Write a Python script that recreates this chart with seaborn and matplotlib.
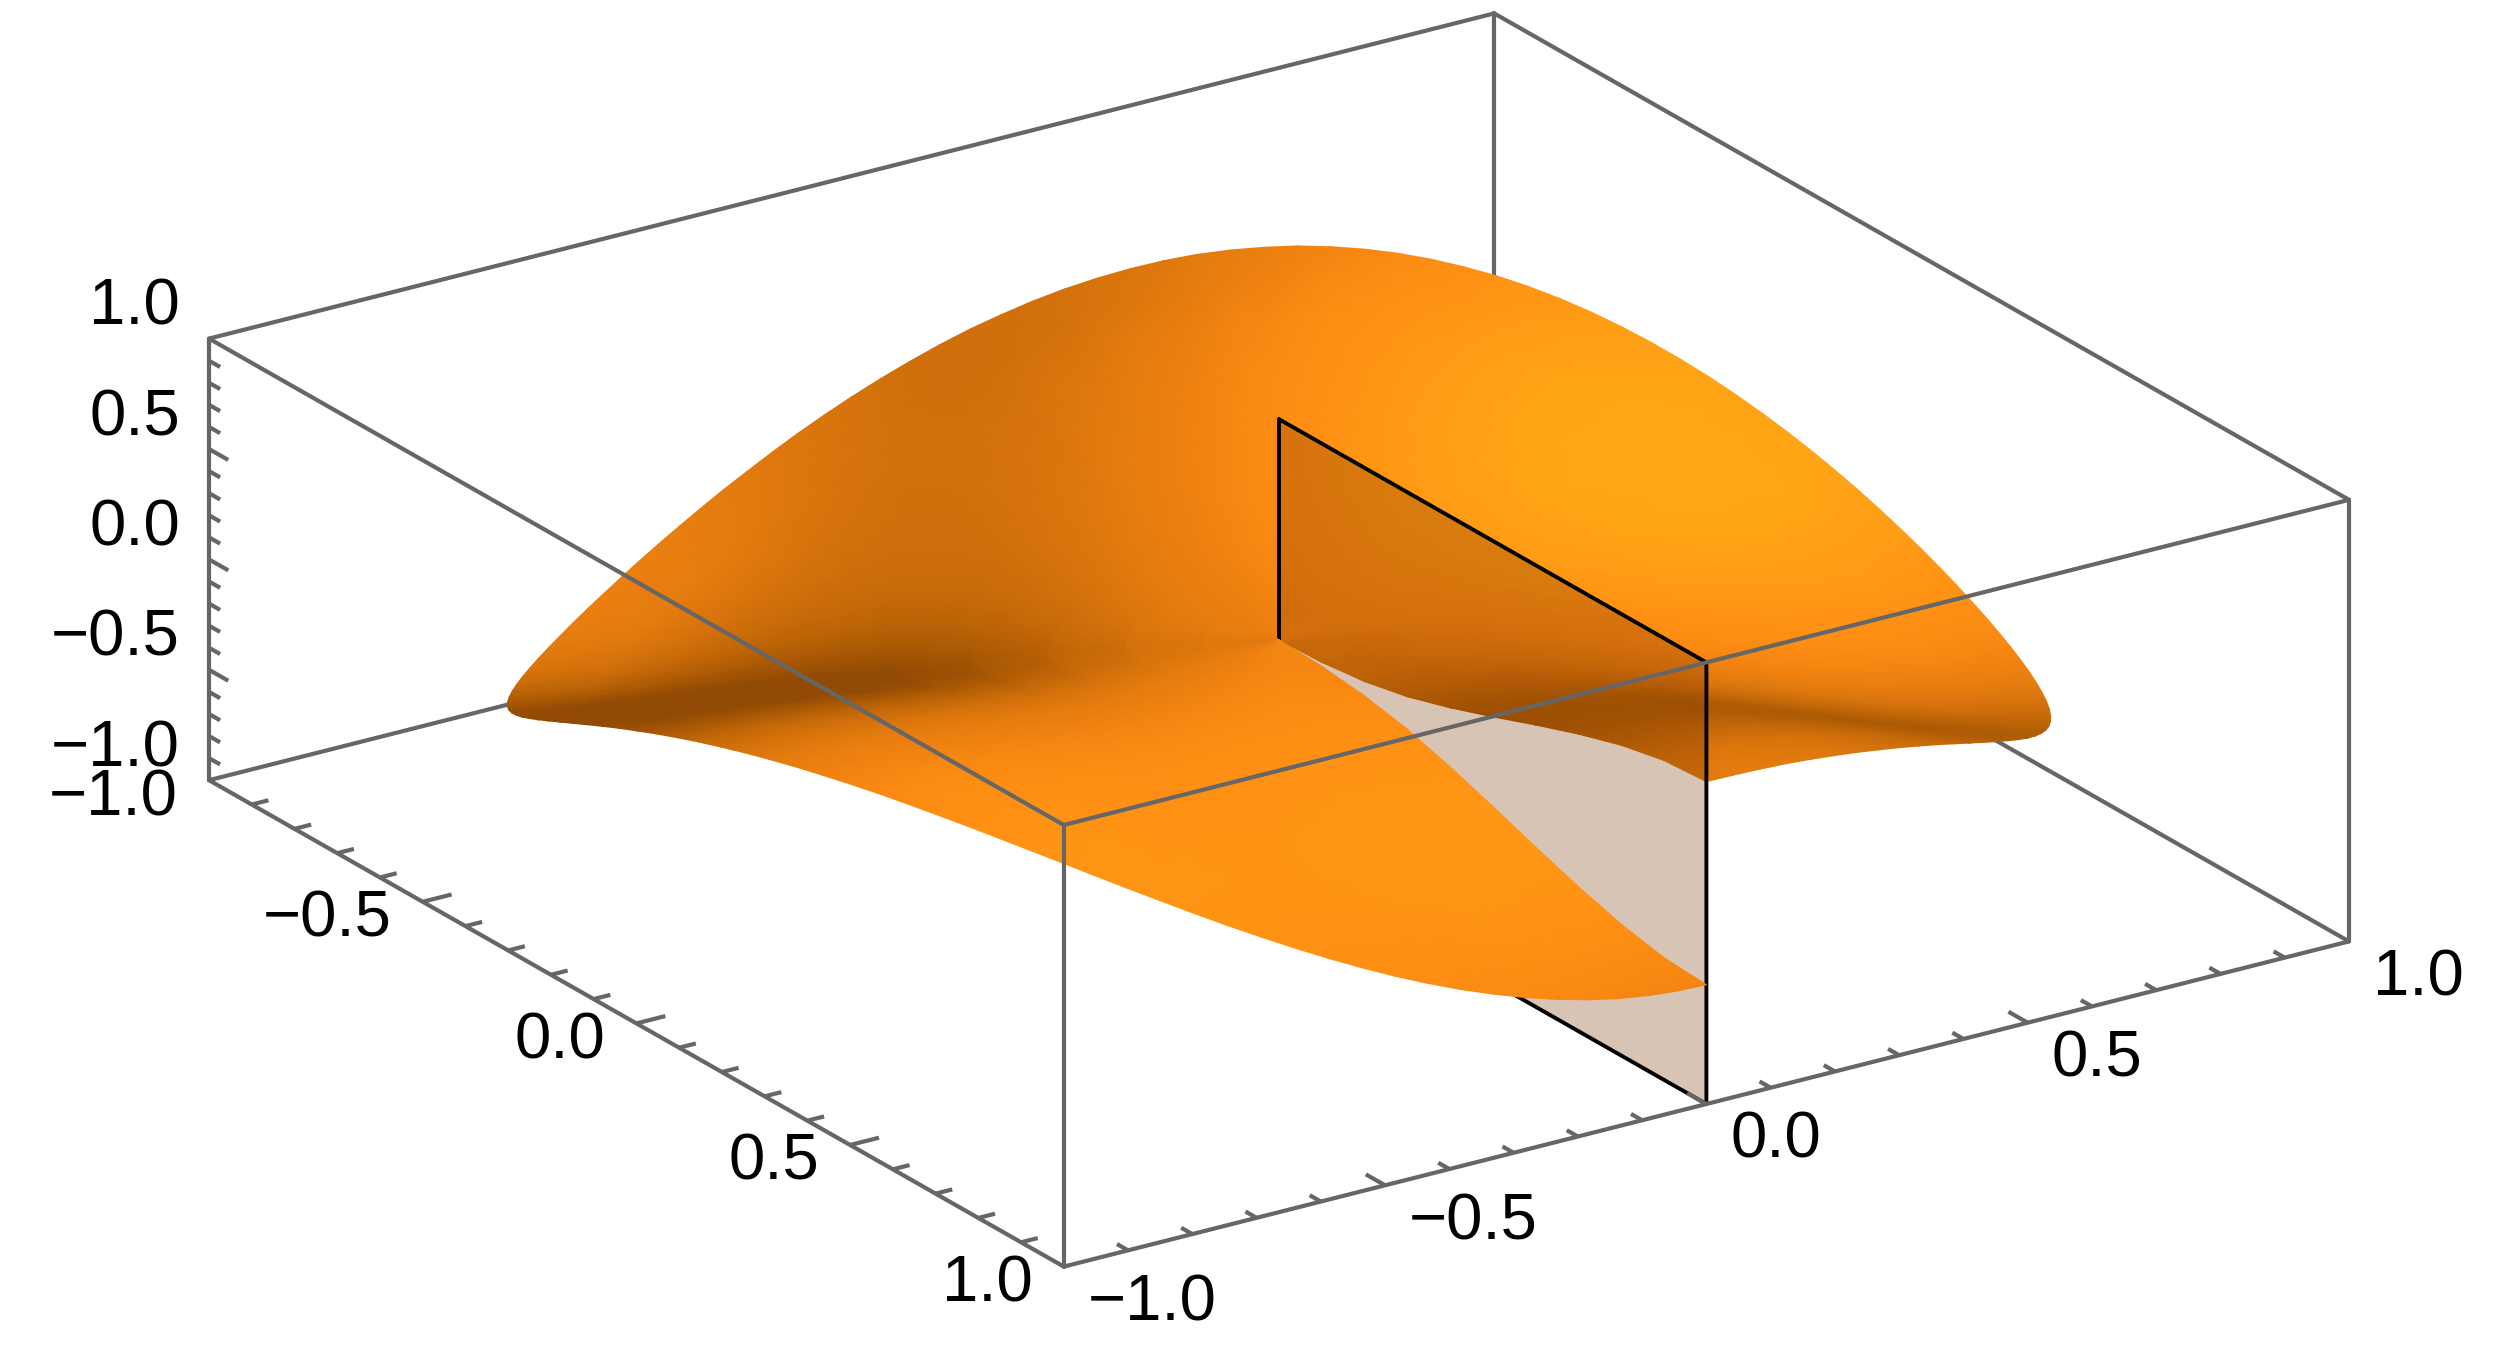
from __future__ import annotations

import matplotlib
matplotlib.use("Agg")
from matplotlib.collections import LineCollection
import matplotlib.pyplot as plt
import numpy as np
import seaborn as sns

# surface height on the rim of the unit disc, every 2.5 degrees,
# walking clockwise from (0, 1) on the x > 0 side round to (0, 1) on the x < 0 side
rim_theta = [90 - 2.5 * k for k in range(145)]
rim_z_first = [
    0.460, 0.457, 0.449, 0.436, 0.417, 0.393, 0.365, 0.332, 0.296, 0.256, 0.213, 0.167,
    0.119, 0.070, 0.020, -0.030, -0.080, -0.129, -0.176, -0.221, -0.264, -0.303, -0.339, -0.371,
    -0.398, -0.421, -0.439, -0.451, -0.458, -0.460, -0.456, -0.447, -0.432, -0.413, -0.388, -0.359,
    -0.325, -0.288, -0.247, -0.203, -0.157, -0.109, -0.060, -0.010, 0.040, 0.090, 0.138, 0.185,
    0.230, 0.272, 0.311, 0.346, 0.377, 0.403, 0.425, 0.442, 0.453, 0.459, 0.460, 0.454,
    0.444, 0.429, 0.408, 0.382, 0.352, 0.318, 0.280, 0.238, 0.195, 0.148, 0.099, 0.050, 0.0,
]
rim_z_second = [
    -0.050, -0.099, -0.148, -0.195, -0.238, -0.280, -0.318, -0.352, -0.382, -0.408, -0.429, -0.444,
    -0.454, -0.460, -0.459, -0.453, -0.442, -0.425, -0.403, -0.377, -0.346, -0.311, -0.272, -0.230,
    -0.185, -0.138, -0.090, -0.040, 0.010, 0.060, 0.109, 0.157, 0.203, 0.247, 0.288, 0.325,
    0.359, 0.388, 0.413, 0.432, 0.447, 0.456, 0.460, 0.458, 0.451, 0.439, 0.421, 0.398,
    0.371, 0.339, 0.303, 0.264, 0.221, 0.176, 0.129, 0.080, 0.030, -0.020, -0.070, -0.119,
    -0.167, -0.213, -0.256, -0.296, -0.332, -0.365, -0.393, -0.417, -0.436, -0.449, -0.457, -0.460,
]
rim_z = rim_z_first + rim_z_second
radius = [0.0, 0.1, 0.2, 0.3, 0.4, 0.5, 0.6, 0.7, 0.8, 0.9, 1.0]
radial_share = [0.0, 0.02, 0.07, 0.16, 0.29, 0.44, 0.60, 0.75, 0.88, 0.97, 1.0]

major_ticks = [-1.0, -0.5, 0.0, 0.5, 1.0]
minor_ticks = [-0.9, -0.8, -0.7, -0.6, -0.4, -0.3, -0.2, -0.1, 0.1, 0.2, 0.3, 0.4, 0.6, 0.7, 0.8, 0.9]
tick_labels = ["\u22121.0", "\u22120.5", "0.0", "0.5", "1.0"]

# cut plane at x = 0
plane_y = [0.0, 1.0, 1.0, 0.0]
plane_z = [1.0, 1.0, -1.0, -1.0]

# screen pixels per data unit, orthographic view
ORIGIN = np.array([1279.0, 640.0])
X_VEC = np.array([642.6, -162.6])
Y_VEC = np.array([427.4, 243.2])
Z_VEC = np.array([0.0, -220.8])

BOX_GREY = "#666666"
BOX_LW = 3.0
LIGHT = np.array([0.10, 0.68, 0.62])
Z_RATIO = 0.36


def project(x, y, z):
    x, y, z = np.asarray(x, float), np.asarray(y, float), np.asarray(z, float)
    return (
        ORIGIN[0] + x * X_VEC[0] + y * Y_VEC[0] + z * Z_VEC[0],
        ORIGIN[1] + x * X_VEC[1] + y * Y_VEC[1] + z * Z_VEC[1],
    )


def box_edge(ax, a, b, zorder):
    px, py = project(*zip(a, b))
    sns.lineplot(x=px, y=py, sort=False, estimator=None, color=BOX_GREY, lw=BOX_LW,
                 ax=ax, zorder=zorder, legend=False)


def surface_mesh():
    theta = np.radians(rim_theta)
    r = np.array(radius)[:, None]
    x = r * np.cos(theta)
    y = r * np.sin(theta)
    z = np.array(radial_share)[:, None] * np.array(rim_z)[None, :]

    # lighting happens in box units, the box is flat so z is squashed
    pts = np.stack([x, y, z * Z_RATIO], axis=-1)
    d_r = np.gradient(pts, axis=0)
    d_t = np.gradient(pts, axis=1)
    normals = np.cross(d_t, d_r)
    normals[0] = normals[1]
    normals /= np.linalg.norm(normals, axis=-1, keepdims=True) + 1e-12
    normals *= np.sign(normals[..., 2:3] + 1e-12)
    shade = normals @ (LIGHT / np.linalg.norm(LIGHT))
    return x, y, z, shade


def main() -> None:
    sns.set_theme(style="white")
    plt.rcParams["font.family"] = ["Liberation Sans", "DejaVu Sans"]

    fig = plt.figure(figsize=(25, 13.52), dpi=100)
    ax = fig.add_axes([0, 0, 1, 1])
    ax.set_xlim(0, 2500)
    ax.set_ylim(1352, 0)
    ax.axis("off")

    # back of the box
    box_edge(ax, (-1, -1, -1), (1, -1, -1), 1)
    box_edge(ax, (1, -1, -1), (1, -1, 1), 1)
    box_edge(ax, (1, -1, -1), (1, 1, -1), 1)
    box_edge(ax, (-1, -1, 1), (1, -1, 1), 1)
    box_edge(ax, (1, -1, 1), (1, 1, 1), 1)

    x, y, z, shade = surface_mesh()
    cmap = sns.blend_palette(
        ["#924b04", "#a85804", "#c06608", "#d4720c", "#e47c0f", "#f08210", "#fb8a13", "#ff9014", "#ff9a15", "#ffa815"],
        as_cmap=True,
    )
    px, py = project(x, y, z)
    lo, hi = 0.40, 0.915
    half = 72

    # x > 0 half sits behind the plane, x < 0 half in front of it
    ax.pcolormesh(px[:, :half + 1], py[:, :half + 1], shade[:, :half + 1], shading="gouraud",
                  cmap=cmap, vmin=lo, vmax=hi, zorder=2)

    qx, qy = project(np.zeros(4), plane_y, plane_z)
    ax.fill(qx, qy, color="#7a3400", alpha=0.29, lw=0, zorder=3)
    ax.plot(np.r_[qx, qx[0]], np.r_[qy, qy[0]], color="black", lw=2.8, zorder=4)

    ax.pcolormesh(px[:, half:], py[:, half:], shade[:, half:], shading="gouraud",
                  cmap=cmap, vmin=lo, vmax=hi, zorder=5)

    # front of the box
    box_edge(ax, (-1, -1, 1), (-1, 1, 1), 6)
    box_edge(ax, (-1, 1, 1), (1, 1, 1), 6)
    box_edge(ax, (-1, -1, 1), (-1, -1, -1), 6)
    box_edge(ax, (-1, 1, 1), (-1, 1, -1), 6)
    box_edge(ax, (1, 1, 1), (1, 1, -1), 6)
    box_edge(ax, (-1, -1, -1), (-1, 1, -1), 6)
    box_edge(ax, (-1, 1, -1), (1, 1, -1), 6)

    # tick marks: each axis takes its direction from another box edge
    segs = []
    for vals, size in ((major_ticks, 0.045), (minor_ticks, 0.026)):
        for v in vals:
            if abs(v) == 1.0:
                continue
            segs.append([project(v, 1, -1), project(v, 1 - size, -1)])
            segs.append([project(-1, v, -1), project(-1 + size, v, -1)])
            segs.append([project(-1, -1, v), project(-1, -1 + size, v)])
    ax.add_collection(LineCollection(segs, colors=BOX_GREY, linewidths=BOX_LW, zorder=6))

    for v, label in zip(major_ticks, tick_labels):
        tx, ty = project(v, 1, -1)
        ax.text(tx + 24, ty + 37, label, ha="left", va="center", fontsize=47, color="black")
        tx, ty = project(-1, v, -1)
        ax.text(tx - 31, ty + 18, label, ha="right", va="center", fontsize=47, color="black")
        tx, ty = project(-1, -1, v)
        ax.text(tx - 29, ty - 31, label, ha="right", va="center", fontsize=47, color="black")

    fig.savefig("out.png", dpi=100, facecolor="white")
    plt.close(fig)


if __name__ == "__main__":
    main()
